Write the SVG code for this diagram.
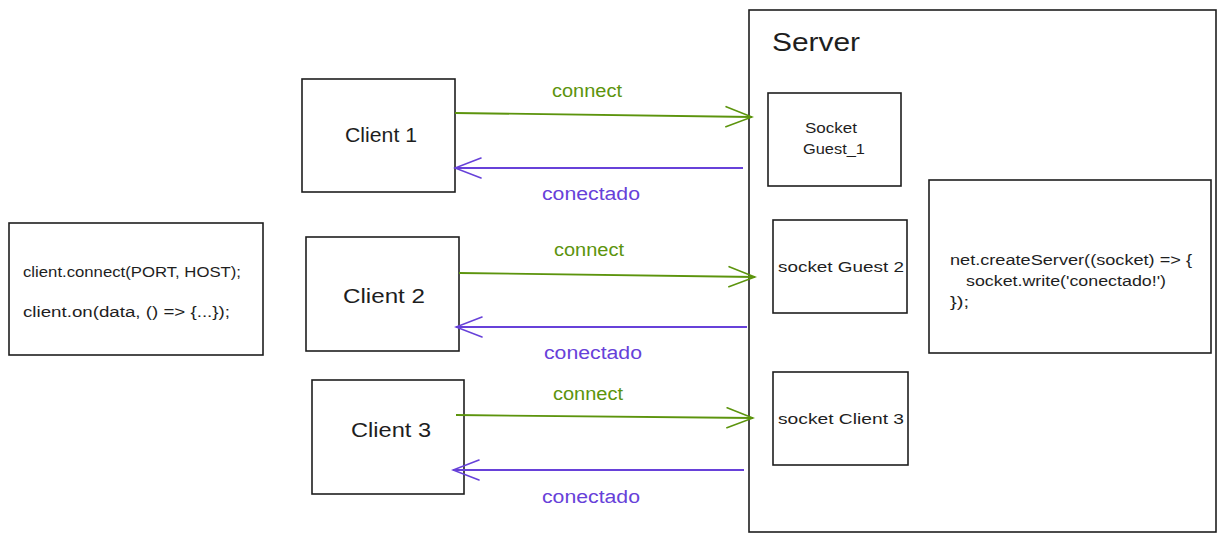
<svg xmlns="http://www.w3.org/2000/svg" width="1226" height="542" viewBox="0 0 1226 542">
<defs>
<marker id="hg" viewBox="0 0 30 24" refX="28" refY="12" markerWidth="30" markerHeight="24" markerUnits="userSpaceOnUse" orient="auto">
<path d="M2,2 L28,12 L2,22" fill="none" stroke="#5c940d" stroke-width="1.6" stroke-linecap="round"/>
</marker>
<marker id="hp" viewBox="0 0 30 24" refX="28" refY="12" markerWidth="30" markerHeight="24" markerUnits="userSpaceOnUse" orient="auto">
<path d="M2,2 L28,12 L2,22" fill="none" stroke="#6741d9" stroke-width="1.6" stroke-linecap="round"/>
</marker>
</defs>
<style>
.box{fill:#ffffff;stroke:#1e1e1e;stroke-width:1.6}
.t{font-family:"Liberation Sans",Arial,sans-serif;fill:#1e1e1e}
.lbl{font-size:20px;text-anchor:middle}
.sm{font-size:15px;text-anchor:middle}
.code{font-size:14px}
.g{fill:#5c940d;font-family:"Liberation Sans",Arial,sans-serif;font-size:18px;text-anchor:middle}
.p{fill:#6741d9;font-family:"Liberation Sans",Arial,sans-serif;font-size:18px;text-anchor:middle}
.ag{stroke:#5c940d;stroke-width:1.8;fill:none;marker-end:url(#hg)}
.ap{stroke:#6741d9;stroke-width:2;fill:none;marker-end:url(#hp)}
</style>
<rect width="1226" height="542" fill="#ffffff"/>
<g id="server">
<rect class="box" x="749" y="10" width="467" height="522"/>
<text class="t" x="772" y="51" font-size="26" textLength="88" lengthAdjust="spacingAndGlyphs">Server</text>
</g>
<g id="client-code">
<rect class="box" x="9" y="223" width="254" height="132"/>
<text class="t code" x="23" y="277" textLength="218" lengthAdjust="spacingAndGlyphs">client.connect(PORT, HOST);</text>
<text class="t code" x="23" y="317" textLength="207" lengthAdjust="spacingAndGlyphs">client.on(data, () =&gt; {...});</text>
</g>
<g id="client1">
<rect class="box" x="302" y="79" width="153" height="113"/>
<text class="t lbl" x="381" y="142" textLength="72" lengthAdjust="spacingAndGlyphs">Client 1</text>
</g>
<g id="client2">
<rect class="box" x="306" y="237" width="153" height="114"/>
<text class="t lbl" x="384" y="303" textLength="82" lengthAdjust="spacingAndGlyphs">Client 2</text>
</g>
<g id="client3">
<rect class="box" x="312" y="380" width="152" height="114"/>
<text class="t lbl" x="391" y="437" textLength="80" lengthAdjust="spacingAndGlyphs">Client 3</text>
</g>
<g id="socket1">
<rect class="box" x="768" y="93" width="133" height="93"/>
<text class="t sm" x="831" y="133" textLength="52" lengthAdjust="spacingAndGlyphs">Socket</text>
<text class="t sm" x="834" y="154" textLength="62" lengthAdjust="spacingAndGlyphs">Guest_1</text>
</g>
<g id="socket2">
<rect class="box" x="773" y="220" width="134" height="93"/>
<text class="t sm" x="841" y="272" textLength="126" lengthAdjust="spacingAndGlyphs">socket Guest 2</text>
</g>
<g id="socket3">
<rect class="box" x="773" y="372" width="135" height="93"/>
<text class="t sm" x="841" y="424" textLength="126" lengthAdjust="spacingAndGlyphs">socket Client 3</text>
</g>
<g id="server-code">
<rect class="box" x="929" y="180" width="282" height="173"/>
<text class="t code" x="950" y="265" textLength="242" lengthAdjust="spacingAndGlyphs">net.createServer((socket) =&gt; {</text>
<text class="t code" x="966" y="286" textLength="200" lengthAdjust="spacingAndGlyphs">socket.write('conectado!')</text>
<text class="t code" x="950" y="307" textLength="19" lengthAdjust="spacingAndGlyphs">});</text>
</g>
<g id="connectors">
<path class="ag" d="M455,113 L752,117"/>
<path class="ap" d="M743,168 L455,168"/>
<path class="ag" d="M459,273 L755,277"/>
<path class="ap" d="M747,327 L456,327"/>
<path class="ag" d="M456,415 L753,418"/>
<path class="ap" d="M744,470 L453,470"/>
<text class="g" x="587" y="97" textLength="70" lengthAdjust="spacingAndGlyphs">connect</text>
<text class="p" x="591" y="200" textLength="98" lengthAdjust="spacingAndGlyphs">conectado</text>
<text class="g" x="589" y="256" textLength="70" lengthAdjust="spacingAndGlyphs">connect</text>
<text class="p" x="593" y="359" textLength="98" lengthAdjust="spacingAndGlyphs">conectado</text>
<text class="g" x="588" y="400" textLength="70" lengthAdjust="spacingAndGlyphs">connect</text>
<text class="p" x="591" y="503" textLength="98" lengthAdjust="spacingAndGlyphs">conectado</text>
</g>
</svg>
